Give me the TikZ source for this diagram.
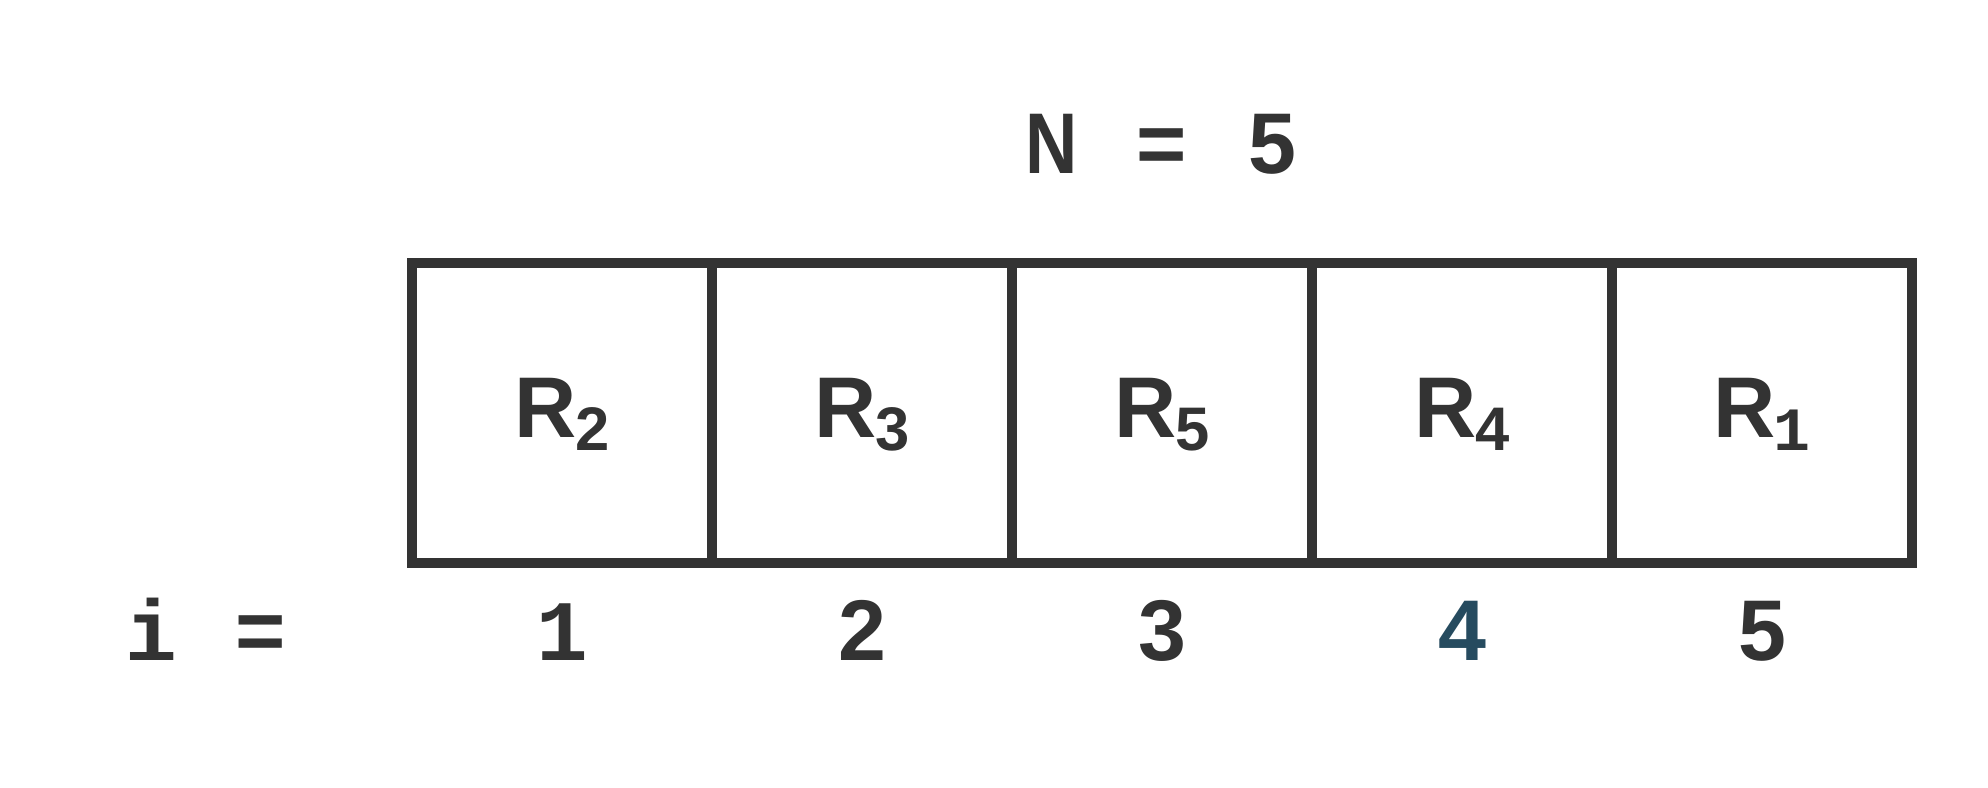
\documentclass[tikz,border=0pt]{standalone}
\usepackage{fontspec}
\setmainfont{Liberation Sans}
\newfontfamily\monof{Liberation Mono}
\definecolor{ink}{HTML}{333333}
\definecolor{blueink}{HTML}{264B5F}
\newcommand\mcell[1]{\makebox[0.55cm][c]{#1}}
\newcommand\one{{\monof 1}}
\newcommand\rlab[1]{R\kern-0.02cm\raisebox{-0.13cm}{\fontsize{17.5}{20}\selectfont #1}}
\begin{document}
\begin{tikzpicture}[x=0.01cm,y=-0.01cm,
  big/.style={inner sep=0pt,outer sep=0pt,font=\fontsize{24.5}{29}\selectfont\bfseries,text=ink,anchor=base},
  cellbox/.style={draw=ink,line width=0.1cm,minimum width=3cm,minimum height=3cm,inner sep=0pt,outer sep=0pt}]
\useasboundingbox (0,0) rectangle (1988,788);
\node[big] (title) at (1162,173) {\mcell{\scalebox{0.84}[1]{N}}\mcell{ }\mcell{=}\mcell{ }\mcell{5}};
\node[cellbox] (c1) at (562,413) {};
\node[cellbox] (c2) at (862,413) {};
\node[cellbox] (c3) at (1162,413) {};
\node[cellbox] (c4) at (1462,413) {};
\node[cellbox] (c5) at (1762,413) {};
\node[big] (r1) at (562,437) {\rlab{2}};
\node[big] (r2) at (862,437) {\rlab{3}};
\node[big] (r3) at (1162,437) {\rlab{5}};
\node[big] (r4) at (1462,437) {\rlab{4}};
\node[big] (r5) at (1762,437) {\rlab{\one}};
\node[big] (ilab) at (206,660) {\mcell{\monof i}\mcell{ }\mcell{=}};
\node[big] (i1) at (562,660) {\one};
\node[big] (i2) at (862,660) {2};
\node[big] (i3) at (1162,660) {3};
\node[big,text=blueink] (i4) at (1462,660) {4};
\node[big] (i5) at (1762,660) {5};
\end{tikzpicture}
\end{document}
